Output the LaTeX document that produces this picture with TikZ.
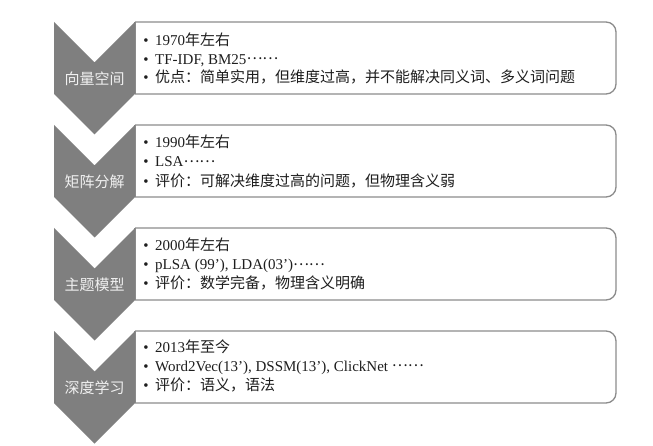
\documentclass[tikz,border=0pt]{standalone}
\usepackage{fontspec}
\setmainfont{Liberation Serif}
\newfontfamily\cjk{Noto Sans CJK SC}
\newcommand\cj[1]{{\cjk #1}}
\newcommand\dotsmid{\raisebox{4.5bp}{\cj{……}}}
\definecolor{chev}{HTML}{7F7F7F}
\definecolor{boxln}{HTML}{8C8C8C}
\definecolor{txt}{HTML}{1E1E1E}
\tikzset{
  chevshape/.style={fill=chev, draw=none},
  boxshape/.style={draw=boxln, line width=1.3bp, rounded corners=10bp},
  boxleft/.style={draw=boxln, line width=1.3bp},
  chevlabel/.style={text=white!94!black, font=\fontsize{15bp}{18bp}\cjk, inner sep=0pt},
  itemline/.style={anchor=base west, text=txt, font=\fontsize{15bp}{18bp}\selectfont, inner sep=0pt},
  bulletmark/.style={anchor=base, text=txt, font=\fontsize{15bp}{18bp}\selectfont, inner sep=0pt}
}
\begin{document}
\begin{tikzpicture}[x=1bp,y=-1bp]
\useasboundingbox (0,0) rectangle (653,446);
\fill[white] (0,0) rectangle (653,446);
% boxes and chevrons
\foreach \t/\b in {22/94, 125/197, 228/300, 331/403}{
  \draw[boxleft] (135,\t) -- (135,\b);
  \draw[boxshape] (135,\t) -- (616,\t) -- (616,\b) -- (135,\b);
  \fill[chevshape] (54,\t) -- (94.5,\t+40.5) -- (135,\t) -- (135,\b)
     -- (94.5,\b+40.5) -- (54,\b) -- cycle;
}
% chevron labels
\node[chevlabel] (c1) at (94.5,79) {向量空间};
\node[chevlabel] (c2) at (94.5,182) {矩阵分解};
\node[chevlabel] (c3) at (94.5,285) {主题模型};
\node[chevlabel] (c4) at (94.5,388) {深度学习};
% box 1
\node[bulletmark] (p11) at (146,46) {•};
\node[bulletmark] (p12) at (146,64.5) {•};
\node[bulletmark] (p13) at (146,83) {•};
\node[itemline] (t11) at (155,46) {1970\cj{年左右}};
\node[itemline] (t12) at (155,64.5) {TF-IDF, BM25\dotsmid};
\node[itemline] (t13) at (155,83) {\cj{优点：简单实用，但维度过高，并不能解决同义词、多义词问题}};
% box 2
\node[bulletmark] (p21) at (146,147.5) {•};
\node[bulletmark] (p22) at (146,167) {•};
\node[bulletmark] (p23) at (146,186.5) {•};
\node[itemline] (t21) at (155,147.5) {1990\cj{年左右}};
\node[itemline] (t22) at (155,167) {LSA\dotsmid};
\node[itemline] (t23) at (155,186.5) {\cj{评价：可解决维度过高的问题，但物理含义弱}};
% box 3
\node[bulletmark] (p31) at (146,250.5) {•};
\node[bulletmark] (p32) at (146,270) {•};
\node[bulletmark] (p33) at (146,289) {•};
\node[itemline] (t31) at (155,250.5) {2000\cj{年左右}};
\node[itemline] (t32) at (155,270) {pLSA (99’), LDA(03’)\dotsmid};
\node[itemline] (t33) at (155,289) {\cj{评价：数学完备，物理含义明确}};
% box 4
\node[bulletmark] (p41) at (146,352.5) {•};
\node[bulletmark] (p42) at (146,371) {•};
\node[bulletmark] (p43) at (146,390.5) {•};
\node[itemline] (t41) at (155,352.5) {2013\cj{年至今}};
\node[itemline] (t42) at (155,371) {Word2Vec(13’), DSSM(13’), ClickNet \dotsmid};
\node[itemline] (t43) at (155,390.5) {\cj{评价：语义，语法}};
\end{tikzpicture}
\end{document}
